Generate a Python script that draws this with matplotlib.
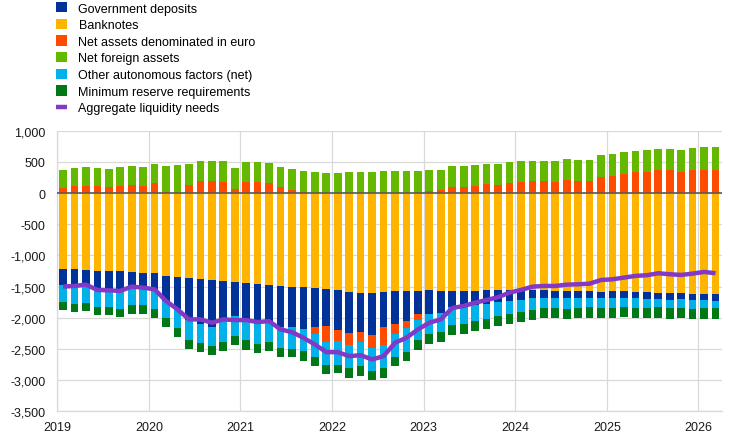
import numpy as np
import matplotlib.pyplot as plt
from matplotlib.patches import Patch
from matplotlib.lines import Line2D
from matplotlib.ticker import FuncFormatter

plt.rcParams['font.family'] = ['Liberation Sans', 'DejaVu Sans']

# EUR billions, one value per maintenance period (8 per year, 2019 - early 2026)
gov_deposits = [-257, -257, -241, -290, -290, -290, -220, -225, -247, -397,
                -515, -675, -718, -750, -622, -541, -590, -616, -600, -659,
                -643, -675, -627, -595, -643, -659, -627, -675, -563, -531,
                -482, -370, -386, -354, -257, -257, -214, -214, -188, -177,
                -161, -129, -129, -113, -113, -113, -113, -96, -113, -113,
                -96, -113, -96, -113, -96, -96, -96, -113]
banknotes = [-1222, -1222, -1238, -1254, -1254, -1254, -1270, -1286, -1286, -1335,
             -1351, -1367, -1383, -1399, -1415, -1431, -1447, -1463, -1479, -1495,
             -1512, -1512, -1528, -1544, -1560, -1592, -1608, -1608, -1592, -1576,
             -1576, -1576, -1560, -1576, -1576, -1576, -1576, -1560, -1560, -1560,
             -1560, -1560, -1560, -1576, -1576, -1576, -1576, -1592, -1576, -1576,
             -1592, -1592, -1608, -1608, -1608, -1624, -1624, -1624]
net_assets_euro = [80, 113, 113, 113, 96, 113, 129, 113, 161, 16,
                   -15, 129, 193, 193, 177, 64, 177, 177, 161, 96,
                   48, 16, -113, -257, -177, -193, -161, -209, -289, -161,
                   -113, -96, 32, 48, 96, 96, 113, 145, 134, 161,
                   177, 193, 193, 177, 209, 193, 193, 257, 278, 310,
                   331, 342, 363, 363, 331, 363, 374, 363]
net_foreign_assets = [290, 289, 306, 289, 289, 306, 306, 306, 306, 418,
                      450, 338, 322, 322, 338, 338, 322, 322, 322, 322,
                      338, 338, 338, 322, 322, 338, 338, 338, 354, 354,
                      354, 354, 338, 322, 338, 338, 338, 322, 333, 338,
                      338, 322, 322, 338, 338, 338, 338, 354, 352, 352,
                      347, 352, 347, 347, 363, 363, 368, 379]
other_autonomous = [-273, -306, -289, -289, -289, -322, -311, -289, -332, -279,
                    -289, -322, -306, -306, -359, -322, -327, -343, -311, -338,
                    -338, -348, -354, -354, -370, -354, -370, -354, -354, -354,
                    -370, -322, -322, -306, -289, -273, -268, -252, -225, -209,
                    -193, -193, -161, -161, -177, -161, -145, -161, -161, -145,
                    -161, -145, -129, -129, -145, -145, -129, -113]
min_reserves = [-123, -129, -129, -129, -129, -129, -145, -145, -145, -145,
                -145, -129, -145, -145, -139, -145, -155, -145, -145, -139,
                -139, -161, -155, -155, -139, -161, -161, -155, -161, -155,
                -155, -155, -155, -155, -155, -155, -155, -155, -161, -155,
                -155, -155, -155, -155, -155, -155, -172, -155, -155, -155,
                -155, -155, -172, -172, -155, -155, -172, -172]
liquidity_needs = [-1500, -1490, -1469, -1554, -1560, -1570, -1500, -1517, -1544, -1731,
                   -1865, -2026, -2026, -2080, -2026, -2037, -2037, -2069, -2053, -2187,
                   -2230, -2321, -2428, -2551, -2551, -2616, -2600, -2669, -2616, -2401,
                   -2321, -2187, -2080, -2026, -1844, -1811, -1758, -1715, -1670, -1597,
                   -1554, -1501, -1490, -1490, -1469, -1463, -1453, -1394, -1383, -1356,
                   -1329, -1318, -1286, -1302, -1313, -1292, -1265, -1286]
years = [2019, 2020, 2021, 2022, 2023, 2024, 2025, 2026]

series = {
    'Government deposits': (gov_deposits, '#003299'),
    'Banknotes': (banknotes, '#FFB400'),
    'Net assets denominated in euro': (net_assets_euro, '#FF4B00'),
    'Net foreign assets': (net_foreign_assets, '#65B800'),
    'Other autonomous factors (net)': (other_autonomous, '#00B1EA'),
    'Minimum reserve requirements': (min_reserves, '#007816'),
}
pos_order = ['Net assets denominated in euro', 'Net foreign assets',
             'Other autonomous factors (net)', 'Minimum reserve requirements',
             'Banknotes', 'Government deposits']
neg_order = ['Banknotes', 'Government deposits', 'Net assets denominated in euro',
             'Other autonomous factors (net)', 'Minimum reserve requirements',
             'Net foreign assets']

n = len(banknotes)
x = years[0] + (np.arange(n) + 0.5) / 8

fig = plt.figure(figsize=(7.44, 4.39), dpi=100)
ax = fig.add_axes([57.3 / 744, 1 - 412.3 / 439, (721.7 - 57.3) / 744, (412.3 - 131.7) / 439])

bottoms = {}
cum = np.zeros(n)
for name in pos_order:
    v = np.array(series[name][0], dtype=float)
    bottoms[name] = np.where(v >= 0, cum, 0.0)
    cum = cum + np.clip(v, 0, None)
cum = np.zeros(n)
for name in neg_order:
    v = np.array(series[name][0], dtype=float)
    bottoms[name] = np.where(v < 0, cum, bottoms[name])
    cum = cum + np.clip(v, None, 0)

for name, (vals, col) in series.items():
    ax.bar(x, vals, width=0.084, bottom=bottoms[name], color=col, linewidth=0, zorder=2)

ax.axhline(0, color='#595959', linewidth=1.2, zorder=3)
ax.plot(x, liquidity_needs, color='#8139C6', linewidth=3.2, zorder=4,
        solid_capstyle='butt')

ax.set_xlim(2019, 2026.255)
ax.set_ylim(-3500, 1000)
ax.set_yticks(np.arange(-3500, 1001, 500))
ax.yaxis.set_major_formatter(FuncFormatter(lambda v, p: f"{int(v):,}"))
ax.set_xticks(years)
ax.set_xticklabels([str(y) for y in years])
ax.grid(True, color='#d9d9d9', linewidth=0.9, zorder=0)
ax.set_axisbelow(True)
for s in ['top', 'right']:
    ax.spines[s].set_visible(False)
for s in ['left', 'bottom']:
    ax.spines[s].set_color('#d9d9d9')
    ax.spines[s].set_linewidth(0.9)
ax.tick_params(axis='both', length=0, labelsize=9, colors='#1a1a1a')
ax.tick_params(axis='y', pad=8.5)
ax.tick_params(axis='x', pad=7)

handles = [Patch(facecolor=col, edgecolor='none') for name, (v, col) in series.items()]
handles.append(Line2D([0], [0], color='#8139C6', linewidth=3.2, solid_capstyle='butt'))
labels = list(series.keys()) + ['Aggregate liquidity needs']
fig.legend(handles, labels, loc='upper left', bbox_to_anchor=(56 / 744, 1 - 3 / 439),
           frameon=False, fontsize=9, handlelength=0.9, handleheight=0.9,
           handletextpad=0.9, labelspacing=0.33, borderpad=0, borderaxespad=0)

fig.savefig('out.png', dpi=100)
